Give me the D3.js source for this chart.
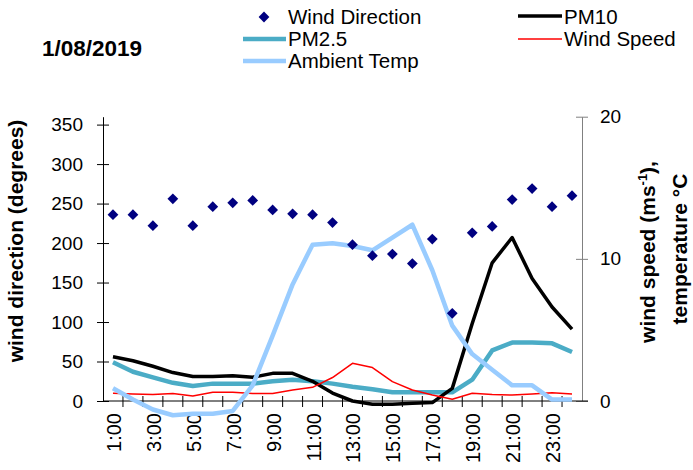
<!DOCTYPE html>
<html><head><meta charset="utf-8">
<script src="https://cdn.jsdelivr.net/npm/d3@7"></script>
<style>body{margin:0;background:#fff}svg{font-family:"Liberation Sans",Arial,sans-serif}</style>
</head><body><svg id="c" width="693" height="470"></svg>
<script>
const hours = ["1:00","2:00","3:00","4:00","5:00","6:00","7:00","8:00","9:00","10:00","11:00","12:00","13:00","14:00","15:00","16:00","17:00","18:00","19:00","20:00","21:00","22:00","23:00","24:00"];
const windDirection = [236,236,222,256,222,246,251,254,242,237,236,226,198,184,186,174,205,111,213,221,255,269,246,260];
const pm10 = [56,51,44,36,31,31,32,30,35,35,25,10,0,-4,-4,-3,-2,16,98,175,207,155,119,91];
const pm25 = [49,37,30,23,19,22,22,22,25,27,25,22,18,15,11,11,11,11,27,64,74,74,73,62];
const ambientTemp = [0.9,0.1,-0.6,-1.0,-0.9,-0.9,-0.7,1.1,4.6,8.2,11.0,11.1,10.9,10.6,11.5,12.4,9.2,5.3,3.3,2.2,1.1,1.1,0.1,0.1];
const windSpeed = [0.54,0.49,0.45,0.52,0.35,0.61,0.61,0.52,0.52,0.77,0.96,1.65,2.65,2.35,1.36,0.77,0.42,0.12,0.54,0.45,0.42,0.49,0.58,0.49];
const leftTicks = [0,50,100,150,200,250,300,350];
const rightTicks = [0,10,20];
const xLabels = ["1:00","3:00","5:00","7:00","9:00","11:00","13:00","15:00","17:00","19:00","21:00","23:00"];

const svg = d3.select("#c");
const L = 103, R = 582, T = 116.7, B = 401;
const x = d3.scaleBand().domain(hours).range([L, R]);
const yL = d3.scaleLinear().domain([0, 360]).range([B, T]);
const yR = d3.scaleLinear().domain([0, 20]).range([B, T]);
const cx = h => x(h) + x.bandwidth()/2;
const FONT = "Liberation Sans, Arial, sans-serif";

// axes
const gl = svg.append("g").attr("transform", `translate(${L},0)`)
  .call(d3.axisLeft(yL).tickValues(leftTicks).tickSizeInner(6).tickSizeOuter(0).tickPadding(14));
gl.select(".domain").attr("stroke","#000");
gl.selectAll(".tick line").attr("x2", 6).attr("x1",-6).attr("stroke","#000");
gl.selectAll("text").attr("font-size", 19).attr("fill","#000").attr("font-family",FONT);

const gr = svg.append("g").attr("transform", `translate(${R},0)`)
  .call(d3.axisRight(yR).tickValues(rightTicks).tickSizeInner(6).tickSizeOuter(0).tickPadding(12));
gr.select(".domain").attr("stroke","#808080");
gr.selectAll(".tick line").attr("x1",-6).attr("x2",6).attr("stroke","#808080");
gr.selectAll("text").attr("font-size", 19).attr("fill","#000").attr("font-family",FONT);

// x axis
svg.append("line").attr("x1",L).attr("x2",R+6).attr("y1",B).attr("y2",B).attr("stroke","#000");
hours.forEach((h,i)=>{
  const xx = x(h) + x.bandwidth();
  if (i < hours.length-1) svg.append("line").attr("x1",xx).attr("x2",xx).attr("y1",B-5).attr("y2",B+6).attr("stroke","#000");
});
svg.append("g").selectAll("text").data(xLabels).join("text")
  .attr("transform", d => `translate(${cx(d)+8},${B+12}) rotate(-90)`)
  .attr("text-anchor","end").attr("font-size",20).text(d=>d);

// lines
const lineL = d3.line().x((d,i)=>cx(hours[i])).y(d=>yL(d));
const lineR = d3.line().x((d,i)=>cx(hours[i])).y(d=>yR(d));
svg.append("path").datum(pm25).attr("d", lineL).attr("fill","none").attr("stroke","#4BACC6").attr("stroke-width",4.5).attr("stroke-linejoin","round");
svg.append("path").datum(pm10).attr("d", lineL).attr("fill","none").attr("stroke","#000").attr("stroke-width",3.5).attr("stroke-linejoin","round");
svg.append("path").datum(windSpeed).attr("d", lineR).attr("fill","none").attr("stroke","#FF0000").attr("stroke-width",1.5).attr("stroke-linejoin","round");
svg.append("path").datum(ambientTemp).attr("d", lineR).attr("fill","none").attr("stroke","#99CCFF").attr("stroke-width",4.5).attr("stroke-linejoin","round");
svg.append("g").selectAll("path").data(windDirection).join("path")
  .attr("transform",(d,i)=>`translate(${cx(hours[i])},${yL(d)}) rotate(45)`)
  .attr("d", d3.symbol().type(d3.symbolSquare).size(58)).attr("fill","#000080");

// axis titles
svg.append("text").attr("transform","translate(22.5,241) rotate(-90)").attr("text-anchor","middle")
  .attr("font-size",21).attr("font-weight","bold").text("wind direction (degrees)");
const rt = svg.append("text").attr("transform","translate(655,252) rotate(-90)").attr("text-anchor","middle")
  .attr("font-size",21).attr("font-weight","bold");
rt.append("tspan").text("wind speed (ms");
rt.append("tspan").attr("font-size",13).attr("dy",-8).text("-1");
rt.append("tspan").attr("dy",8).text("),");
svg.append("text").attr("transform","translate(687,249) rotate(-90)").attr("text-anchor","middle")
  .attr("font-size",21).attr("font-weight","bold").text("temperature °C");

// title
svg.append("text").attr("x",42).attr("y",56).attr("font-size",22.5).attr("font-weight","bold").text("1/08/2019");

// legend
const lg = svg.append("g").attr("font-size",20.5);
lg.append("path").attr("transform","translate(264,17) rotate(45)").attr("d", d3.symbol().type(d3.symbolSquare).size(58)).attr("fill","#000080");
lg.append("text").attr("x",288).attr("y",24).text("Wind Direction");
lg.append("line").attr("x1",243).attr("x2",286).attr("y1",39).attr("y2",39).attr("stroke","#4BACC6").attr("stroke-width",4.5);
lg.append("text").attr("x",288).attr("y",46).text("PM2.5");
lg.append("line").attr("x1",243).attr("x2",286).attr("y1",61).attr("y2",61).attr("stroke","#99CCFF").attr("stroke-width",4.5);
lg.append("text").attr("x",288).attr("y",68).text("Ambient Temp");
lg.append("line").attr("x1",518).attr("x2",562).attr("y1",16).attr("y2",16).attr("stroke","#000").attr("stroke-width",3.5);
lg.append("text").attr("x",564).attr("y",24).text("PM10");
lg.append("line").attr("x1",518).attr("x2",562).attr("y1",39).attr("y2",39).attr("stroke","#FF0000").attr("stroke-width",1.5);
lg.append("text").attr("x",564).attr("y",46).text("Wind Speed");
</script></body></html>
